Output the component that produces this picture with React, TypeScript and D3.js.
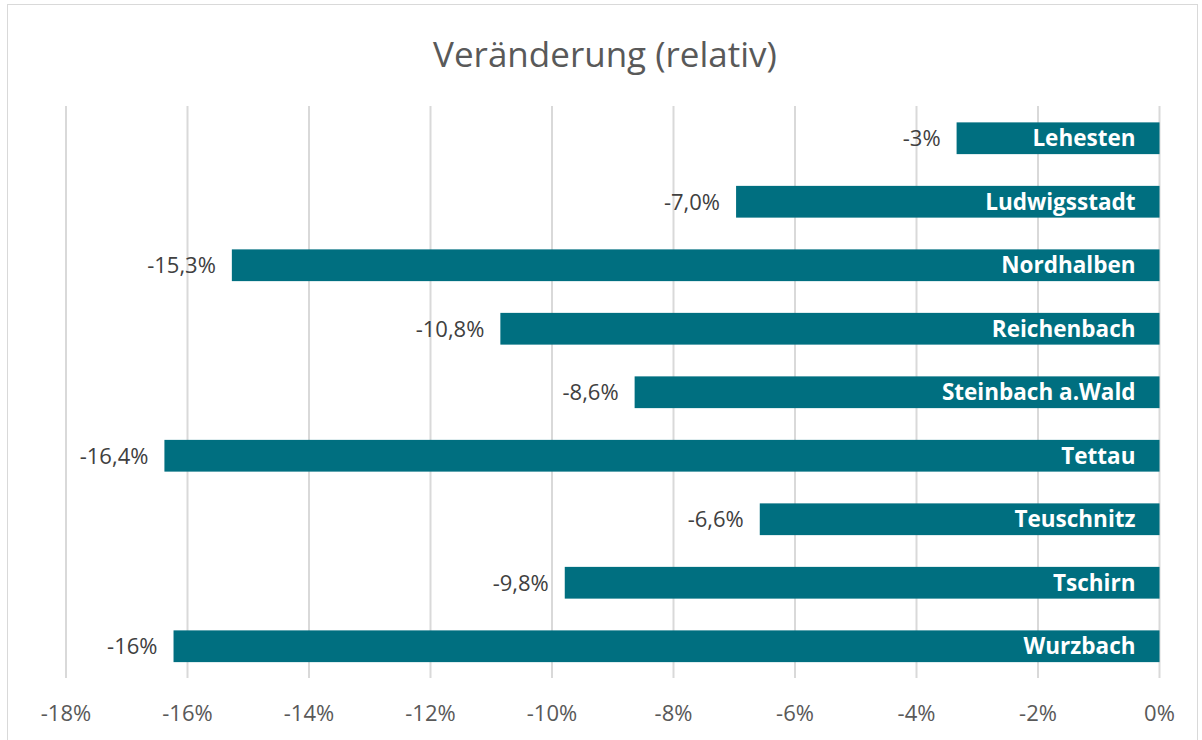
import React from "react";
import * as d3 from "d3";

const categories = ["Lehesten", "Ludwigsstadt", "Nordhalben", "Reichenbach", "Steinbach a.Wald", "Tettau", "Teuschnitz", "Tschirn", "Wurzbach"];
const values = [-3.34, -6.97, -15.27, -10.85, -8.64, -16.38, -6.58, -9.79, -16.23];
const valueLabels = ["-3%", "-7,0%", "-15,3%", "-10,8%", "-8,6%", "-16,4%", "-6,6%", "-9,8%", "-16%"];
const ticks = [-18, -16, -14, -12, -10, -8, -6, -4, -2, 0];
const tickLabels = ["-18%", "-16%", "-14%", "-12%", "-10%", "-8%", "-6%", "-4%", "-2%", "0%"];

const W = 1202;
const H = 740;
const FONT = "'Segoe UI', 'Open Sans', 'Noto Sans', sans-serif";

export default function App() {
  const x = d3.scaleLinear().domain([-18, 0]).range([66, 1159.5]);
  const y = d3.scaleBand<string>().domain(categories).range([106.5, 678]).paddingInner(0.5).paddingOuter(0.25);
  return (
    <div style={{ position: "fixed", left: 0, top: 0 }}>
      <svg width={W} height={H} style={{ display: "block", background: "#fff" }}>
        <rect x={7.5} y={4.5} width={1190} height={740} fill="#fff" stroke="#d9d9d9" strokeWidth={1} />
        <text x={605} y={67} textAnchor="middle" fontFamily={FONT} fontSize={35} fill="#595959">
          Veränderung (relativ)
        </text>
        {ticks.map((t) => (
          <line key={t} x1={x(t)} x2={x(t)} y1={106} y2={678} stroke="#d9d9d9" strokeWidth={2} />
        ))}
        {ticks.map((t, i) => (
          <text key={"l" + t} x={x(t)} y={721} textAnchor="middle" fontFamily={FONT} fontSize={22} fill="#595959">
            {tickLabels[i]}
          </text>
        ))}
        {categories.map((c, i) => {
          const y0 = y(c)!;
          const bw = y.bandwidth();
          const cy = y0 + bw / 2;
          return (
            <g key={c}>
              <rect x={x(values[i])} y={y0} width={x(0) - x(values[i])} height={bw} fill="#006f80" />
              <text x={x(0) - 24} y={cy + 8} textAnchor="end" fontFamily={FONT} fontWeight="bold" fontSize={22.5} fill="#fff">
                {c}
              </text>
              <text x={x(values[i]) - 16} y={cy + 8} textAnchor="end" fontFamily={FONT} fontSize={22} fill="#404040">
                {valueLabels[i]}
              </text>
            </g>
          );
        })}
      </svg>
    </div>
  );
}
